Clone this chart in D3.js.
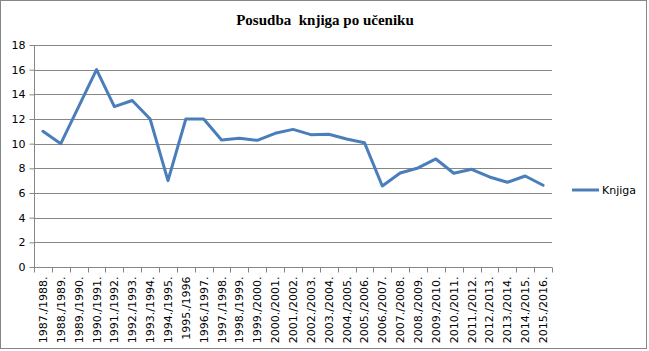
<!DOCTYPE html>
<html><head><meta charset="utf-8">
<script src="https://cdn.jsdelivr.net/npm/d3@7"></script>
<style>body{margin:0;background:#fff}svg{display:block}</style>
</head><body>
<script>
const categories = ["1987./1988.","1988./1989.","1989./1990.","1990./1991.","1991./1992.","1992./1993.","1993./1994.","1994./1995.","1995./1996","1996./1997.","1997./1998.","1998./1999.","1999./2000.","2000./2001.","2001./2002.","2002./2003.","2003./2004.","2004./2005.","2005./2006.","2006./2007.","2007./2008.","2008./2009.","2009./2010.","2010./2011.","2011./2012.","2012./2013.","2013./2014.","2014./2015.","2015./2016."];
const values = [11,10,13,16,13,13.5,12,7,12,12,10.3,10.43,10.27,10.84,11.16,10.73,10.76,10.38,10.08,6.57,7.62,8.03,8.76,7.6,7.92,7.3,6.87,7.38,6.63];
const yTicks = [0,2,4,6,8,10,12,14,16,18];
const seriesName = "Knjiga";
const title = "Posudba  knjiga po učeniku";

const W=649,H=351;
const svg=d3.select("body").append("svg").attr("width",W).attr("height",H);
svg.append("rect").attr("x",0.5).attr("y",0.5).attr("width",646).attr("height",348).attr("fill","#fff").attr("stroke","#868686");

const pL=34,pR=552,pT=45,pB=267;
const x=d3.scaleBand().domain(categories).range([pL,pR]);
const y=d3.scaleLinear().domain([0,18]).range([pB,pT]);

svg.append("text").attr("x",325).attr("y",25).attr("text-anchor","middle")
  .attr("font-family","Liberation Serif").attr("font-weight","bold").attr("font-size",15)
  .style("white-space","pre").text(title);

// gridlines
svg.append("g").selectAll("line").data(yTicks.filter(d=>d>0)).join("line")
  .attr("x1",pL).attr("x2",pR).attr("y1",d=>Math.round(y(d))+0.5).attr("y2",d=>Math.round(y(d))+0.5)
  .attr("stroke","#868686").attr("stroke-width",1);

// y axis
const ya=svg.append("g").attr("transform",`translate(${pL+0.5},0)`)
  .call(d3.axisLeft(y).tickValues(yTicks).tickSize(5).tickPadding(4).tickFormat(d3.format("d")));
ya.select(".domain").attr("stroke","#868686").attr("d",`M0,${pT}V${pB}`);
ya.selectAll(".tick line").attr("stroke","#868686");
ya.selectAll(".tick text").attr("font-family","DejaVu Sans").attr("font-size",11).attr("fill","#000");

// x axis
const xa=svg.append("g").attr("transform",`translate(0,${pB+0.5})`);
xa.append("line").attr("x1",pL).attr("x2",pR).attr("stroke","#868686");
const bounds=categories.map(c=>x(c)).concat([pR]);
xa.selectAll("line.t").data(bounds).join("line").attr("class","t")
  .attr("x1",d=>Math.round(d)+0.5).attr("x2",d=>Math.round(d)+0.5).attr("y1",0).attr("y2",5).attr("stroke","#868686");
xa.selectAll("text").data(categories).join("text")
  .attr("transform",d=>`translate(${x(d)+x.bandwidth()/2+4},9) rotate(-90)`)
  .attr("text-anchor","end").attr("font-family","DejaVu Sans").attr("font-size",11).attr("fill","#000").text(d=>d);

// line
const line=d3.line().x((d,i)=>x(categories[i])+x.bandwidth()/2).y(d=>y(d));
svg.append("path").datum(values).attr("d",line).attr("fill","none").attr("stroke","#4a7ebb")
  .attr("stroke-width",3).attr("stroke-linejoin","round").attr("stroke-linecap","round");

// legend
svg.append("line").attr("x1",572).attr("x2",599).attr("y1",190).attr("y2",190).attr("stroke","#4a7ebb").attr("stroke-width",3);
svg.append("text").attr("x",602).attr("y",194).attr("font-family","DejaVu Sans").attr("font-size",11).text(seriesName);
</script>
</body></html>
